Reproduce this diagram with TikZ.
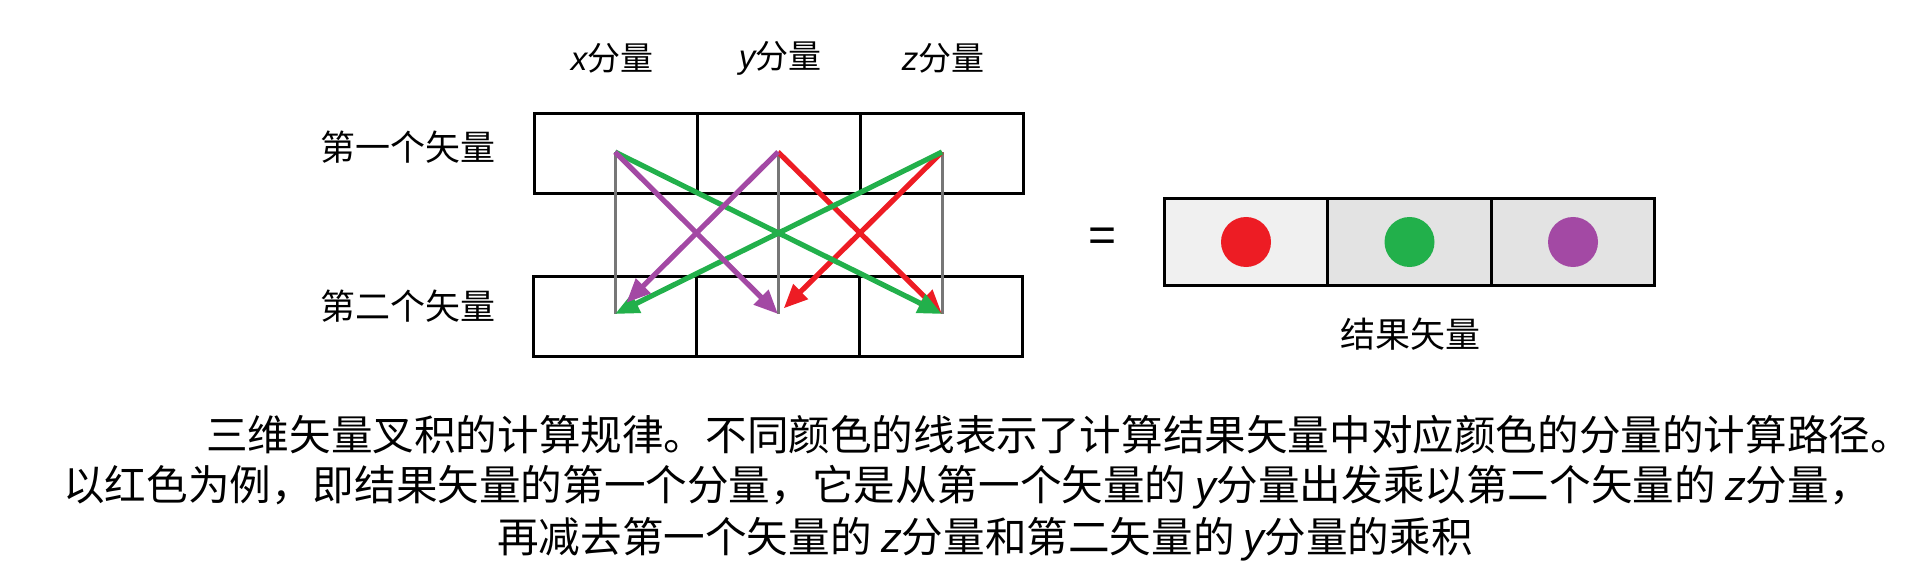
\documentclass[tikz,border=0pt]{standalone}
\usepackage{fontspec}
\setmainfont{Noto Sans CJK SC}
\newfontfamily\latf{Liberation Sans}
\usetikzlibrary{arrows.meta}
\definecolor{cred}{HTML}{ED1C24}
\definecolor{cgreen}{HTML}{22B04B}
\definecolor{cpurple}{HTML}{A349A4}
\definecolor{cgray}{HTML}{777777}
\newcommand{\ivar}[1]{{\latf\itshape #1}}
\begin{document}
\begin{tikzpicture}[x=0.5pt,y=-0.5pt,
  cell/.style={draw=black,line width=1.5pt,minimum width=81.5pt,minimum height=40pt,inner sep=0pt,outer sep=0pt},
  rcell/.style={draw=black,line width=1.5pt,minimum width=81.8pt,minimum height=43pt,inner sep=0pt,outer sep=0pt,fill=black!11},
  dot/.style={circle,minimum size=25pt,inner sep=0pt},
  guide/.style={draw=cgray,line width=1.5pt},
  vec/.style={line width=2.6pt,-{Triangle[length=12pt,width=10pt]}},
  lab/.style={font=\fontsize{17.5}{20}\selectfont,inner sep=0pt},
  captxt/.style={font=\fontsize{20.8}{24}\selectfont,inner sep=0pt}
]
\useasboundingbox (0,0) rectangle (1920,577);
% top labels
\node[lab,font=\fontsize{16.5}{19}\selectfont] (lx) at (612,58) {\ivar{x}分量};
\node[lab,font=\fontsize{16.5}{19}\selectfont] (ly) at (780,58) {\ivar{y}分量};
\node[lab,font=\fontsize{16.5}{19}\selectfont] (lz) at (943,58) {\ivar{z}分量};
% row labels
\node[lab] (l1) at (408,147) {第一个矢量};
\node[lab] (l2) at (408,306) {第二个矢量};
% first vector cells
\node[cell] (t1) at (615.5,154) {};
\node[cell] (t2) at (778.5,154) {};
\node[cell] (t3) at (941.5,154) {};
% second vector cells
\node[cell] (s1) at (614.5,316) {};
\node[cell] (s2) at (777.5,316) {};
\node[cell] (s3) at (940.5,316) {};
% path points
\coordinate (a1) at (615,152);
\coordinate (a2) at (778,152);
\coordinate (a3) at (942,152);
\coordinate (b1) at (615,314);
\coordinate (b2) at (778,314);
\coordinate (b3) at (942,314);
\draw[guide] (a1) -- (b1);
\draw[guide] (a2) -- (b2);
\draw[guide] (a3) -- (b3);
\draw[vec,cred] (a2) -- (b3);
\draw[vec,cred,shorten >=4pt] (a3) -- (b2);
\draw[vec,cgreen] (a1) -- (b3);
\draw[vec,cgreen] (a3) -- (b1);
\draw[vec,cpurple] (a1) -- (b2);
\draw[vec,cpurple,shorten >=8pt] (a2) -- (b1);
% equals
\node[inner sep=0pt,font=\latf\fontsize{24}{28}\selectfont] (eq) at (1102,240) {=};
% result vector
\node[rcell,fill=black!6] (r1) at (1246,242) {};
\node[rcell] (r2) at (1409.5,242) {};
\node[rcell] (r3) at (1573,242) {};
\node[dot,fill=cred] (d1) at (r1.center) {};
\node[dot,fill=cgreen] (d2) at (r2.center) {};
\node[dot,fill=cpurple] (d3) at (r3.center) {};
\node[lab] (lr) at (1410,334) {结果矢量};
% caption
\node[captxt] (c1) at (1059,435) {三维矢量叉积的计算规律。不同颜色的线表示了计算结果矢量中对应颜色的分量的计算路径。};
\node[captxt] (c2) at (967,487) {以红色为例，即结果矢量的第一个分量，它是从第一个矢量的 \ivar{y}分量出发乘以第二个矢量的 \ivar{z}分量，};
\node[captxt] (c3) at (985,539) {再减去第一个矢量的 \ivar{z}分量和第二矢量的 \ivar{y}分量的乘积};
\end{tikzpicture}
\end{document}
